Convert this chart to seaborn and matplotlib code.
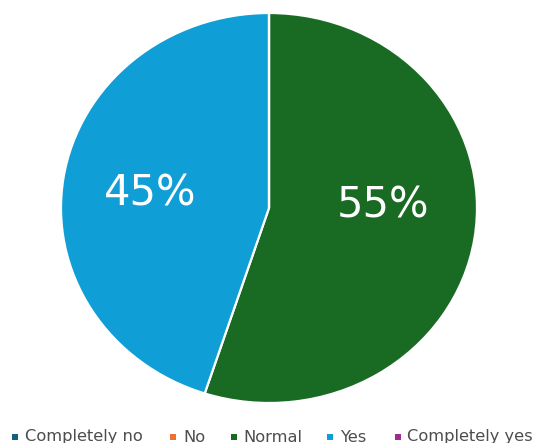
import matplotlib
matplotlib.use("Agg")
import matplotlib.pyplot as plt
from matplotlib.patches import Rectangle
import seaborn as sns

# Survey answers and their shares (%)
categories = ["Completely no", "No", "Normal", "Yes", "Completely yes"]
shares = [0, 0, 55, 45, 0]
colors = ["#156082", "#E97132", "#196B24", "#0F9ED5", "#A02B93"]

# Where the percentage labels sit inside the pie (axes data units)
label_pos = {"Normal": (0.548, 0.015), "Yes": (-0.572, 0.072)}

# Legend layout along the bottom edge (pixels from the left)
legend_square_x = [12, 170, 231, 327, 395]
legend_text_x = [25, 183, 243, 340, 407]

W, H = 534, 443
sns.set_theme(style="white")
plt.rcParams["font.family"] = ["DejaVu Sans"]

fig = plt.figure(figsize=(W / 100, H / 100), dpi=100)
ax = fig.add_axes([61 / W, 40 / H, 416 / W, 390 / H])

ax.pie(
    shares,
    colors=colors,
    startangle=90,
    counterclock=False,
    radius=1.0,
    wedgeprops=dict(edgecolor="white", linewidth=1.6),
)
ax.set_aspect("auto")
ax.set_xlim(-1, 1)
ax.set_ylim(-1, 1)
ax.axis("off")

for cat, val in zip(categories, shares):
    if val > 0 and cat in label_pos:
        x, y = label_pos[cat]
        ax.text(x, y, f"{val}%", color="white", fontsize=30,
                ha="center", va="center")

# Legend row: small coloured squares followed by the category names
for cat, col, sx, tx in zip(categories, colors, legend_square_x, legend_text_x):
    fig.patches.append(Rectangle((sx / W, 1 - 439.5 / H), 6 / W, 6 / H,
                                 transform=fig.transFigure, figure=fig,
                                 facecolor=col, edgecolor="none"))
    fig.text(tx / W, 1 - 441.5 / H, cat, color="#4d4d4d", fontsize=11.7,
             ha="left", va="baseline")

fig.savefig("out.png", dpi=100)
